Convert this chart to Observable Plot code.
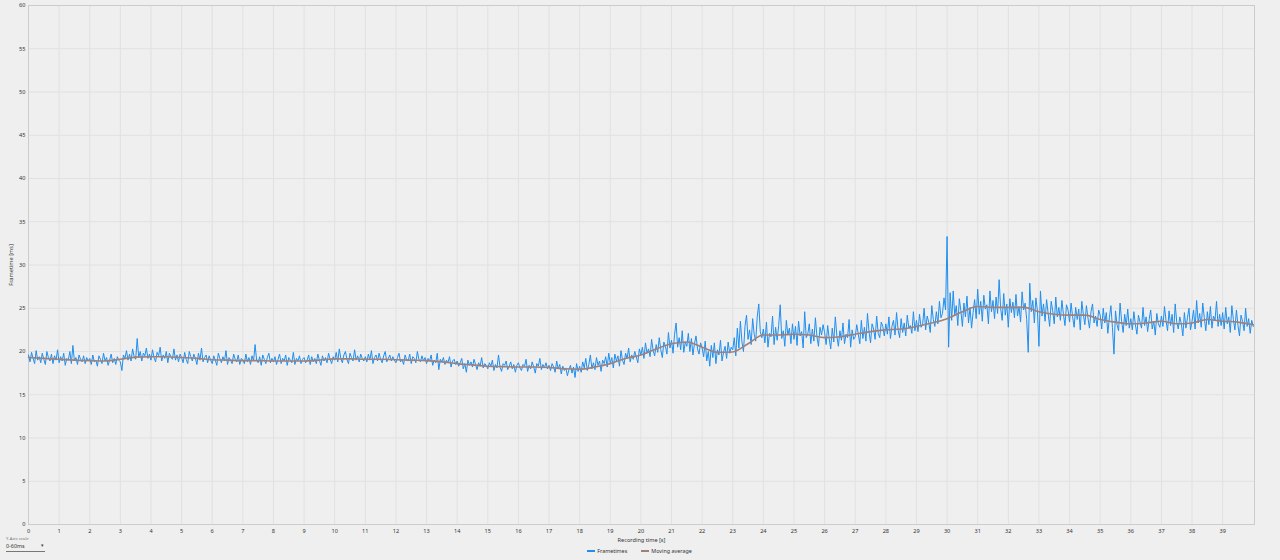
<!DOCTYPE html>
<html>
<head>
<meta charset="utf-8">
<script src="https://cdn.jsdelivr.net/npm/d3@7"></script>
<script src="https://cdn.jsdelivr.net/npm/@observablehq/plot@0.6"></script>
<style>
  html, body { margin: 0; padding: 0; background: #efefef; }
  body { width: 1280px; height: 560px; overflow: hidden; position: relative; font-family: "Noto Sans", "Open Sans", sans-serif; }
  #chart svg { display: block; }
  #legend { position: absolute; left: 0; top: 546px; width: 1279px; height: 10px; display: flex; justify-content: center; align-items: center; gap: 14px; font-size: 5.4px; color: #333; }
  .item { display: flex; align-items: center; gap: 2px; }
  .sw { display: inline-block; width: 8px; height: 2px; }
  #yscale { position: absolute; left: 6px; top: 536px; font-size: 4.2px; color: #777; }
  #yscale .sel { font-size: 5.4px; color: #333; margin-top: 1px; width: 39px; border-bottom: 1px solid #777; padding-bottom: 1px; position: relative; }
  #yscale .arr { position: absolute; right: 1px; top: 0px; font-size: 4.5px; color: #444; }
</style>
</head>
<body>
<div id="chart"></div>
<div id="legend"></div>
<div id="yscale"><div>Y-Axis scale</div><div class="sel">0-60ms<span class="arr">&#9662;</span></div></div>
<script>
// ---- data ----
const sampleStep = 0.05; // seconds between plotted frametime samples
const frametimes = [
19.6,18.8,19.9,19.2,18.6,20.1,19.0,19.4,18.7,19.8,19.1,18.5,20.0,19.3,18.9,19.7,18.6,19.5,19.0,20.2,
18.7,19.4,18.9,19.8,18.4,19.2,19.0,20.0,18.6,20.7,18.9,19.3,18.5,19.6,19.1,18.8,19.5,18.6,19.3,18.9,
19.2,18.5,19.6,18.8,19.0,18.3,19.5,19.1,18.6,19.8,18.9,19.3,18.4,19.0,19.7,18.7,19.2,18.5,19.4,19.0,
18.8,17.8,19.6,19.2,20.1,19.0,19.7,18.9,20.3,19.4,19.1,21.5,19.3,20.0,18.9,19.8,19.5,20.4,19.2,19.7,
19.0,20.2,19.3,18.8,19.9,19.5,20.5,18.9,19.6,19.2,20.0,18.7,19.8,19.4,19.1,20.3,19.0,19.6,18.8,19.7,
19.3,18.7,19.9,19.1,18.6,20.0,19.4,18.9,19.7,19.2,18.5,19.8,19.0,20.4,18.8,19.3,19.6,18.7,19.5,19.0,
18.6,19.5,19.0,18.4,19.8,19.2,18.7,19.4,18.9,20.1,18.5,19.3,19.0,18.6,19.7,19.1,18.8,19.6,18.5,19.2,
19.0,18.6,19.7,18.8,19.3,18.5,19.5,18.9,20.8,19.0,18.7,19.4,18.4,19.6,19.1,18.6,19.3,19.8,18.7,19.2,
18.8,19.4,18.5,19.1,19.7,18.6,19.2,18.9,19.6,18.4,19.3,19.0,18.7,19.9,18.5,19.2,18.9,19.5,18.6,19.1,
19.3,18.7,19.0,19.6,18.5,19.4,18.8,19.2,18.6,19.7,19.0,18.4,19.5,18.9,19.3,18.7,19.8,19.1,18.6,19.4,
19.0,19.9,18.8,20.3,19.2,18.7,19.6,20.0,19.1,18.6,19.8,19.3,18.9,20.2,19.0,19.5,18.8,19.7,19.2,18.9,
19.4,18.8,19.7,19.0,20.1,18.6,19.3,19.6,18.9,19.8,19.1,18.7,19.5,20.0,18.8,19.2,19.6,18.9,19.4,19.0,
18.7,19.3,19.8,18.8,19.1,18.5,19.6,19.0,18.9,19.7,18.6,19.4,19.2,18.7,20.0,19.1,18.8,19.5,18.9,19.3,
18.6,19.2,18.9,19.6,18.4,19.0,18.7,19.8,17.9,19.1,18.8,19.3,18.5,19.0,18.7,19.4,18.2,18.9,19.1,18.5,
18.9,18.3,18.7,19.2,18.0,18.6,17.6,19.0,18.4,18.8,18.2,19.1,18.5,17.9,18.7,18.3,19.3,18.1,18.6,18.4,
18.0,18.7,18.3,19.0,17.8,18.5,18.1,19.6,18.2,17.7,18.6,18.4,18.9,17.9,18.3,18.8,18.0,18.5,17.6,18.4,
18.7,18.1,17.8,18.5,18.3,19.1,17.7,18.4,18.0,18.8,18.2,17.5,18.6,18.3,19.2,17.9,18.5,18.1,18.7,18.0,
18.4,17.8,18.6,18.2,17.6,18.9,18.0,18.5,17.4,18.3,17.8,18.1,17.2,17.9,18.4,17.5,18.2,17.0,18.6,17.7,
18.3,17.6,18.8,18.1,19.2,17.8,18.5,19.6,18.0,18.7,17.9,19.3,18.4,18.9,17.7,19.0,18.6,19.4,18.2,19.8,
18.6,19.3,18.1,19.7,18.9,19.5,18.3,20.1,19.0,18.5,19.8,19.2,20.4,18.8,19.6,19.1,20.0,19.4,18.7,20.3,
19.6,20.5,19.2,21.0,19.8,20.3,19.4,21.4,20.1,19.5,20.8,19.9,21.6,20.2,19.3,21.1,20.6,19.7,22.2,20.4,
21.3,19.8,22.0,23.3,20.5,21.6,20.2,22.4,19.9,21.1,20.6,22.1,20.0,21.5,19.6,20.9,21.8,20.3,19.7,21.0,
20.4,19.4,21.2,18.9,20.0,18.3,20.7,19.3,21.0,18.6,20.2,19.6,21.3,18.9,19.9,20.6,19.2,21.1,19.8,20.5,
20.2,21.6,19.5,22.7,20.4,23.5,21.1,20.0,22.9,24.2,21.4,22.5,20.8,23.8,22.0,21.2,24.0,25.5,22.3,21.6,
22.6,21.0,23.4,20.5,22.1,21.7,24.1,20.8,22.8,21.3,23.0,25.4,21.5,22.4,20.6,23.6,21.9,22.7,20.9,23.2,
21.4,22.9,20.7,23.5,21.8,22.3,20.4,24.6,21.6,22.0,23.2,20.9,22.6,21.2,23.9,21.7,20.6,22.8,21.9,23.1,
22.2,20.8,23.0,21.5,20.3,22.7,21.1,24.0,21.8,20.6,22.4,21.3,23.3,20.9,22.0,21.6,23.7,20.5,22.5,21.4,
21.7,23.1,22.0,20.9,23.6,21.5,22.8,21.2,24.4,22.3,21.0,23.2,22.6,21.4,24.1,22.1,21.6,23.4,22.9,21.8,
23.2,22.0,24.0,21.5,22.9,23.6,21.9,24.5,22.5,21.6,23.8,22.2,23.3,21.8,24.2,22.7,23.0,22.1,24.6,22.4,
23.6,22.3,24.3,22.8,23.1,25.0,22.5,24.1,23.4,22.2,25.3,23.7,22.9,24.6,23.2,25.8,23.9,24.4,26.2,24.8,
33.3,20.5,26.8,23.6,27.0,24.2,25.3,23.0,26.1,24.7,22.9,25.6,24.0,26.4,23.3,25.1,22.7,24.5,26.0,23.8,
27.2,24.3,25.8,23.5,26.5,24.9,25.4,23.2,27.0,24.6,25.9,23.8,26.3,24.4,28.3,25.0,23.6,26.7,24.2,25.5,
22.8,26.1,24.5,25.7,23.9,26.6,24.1,25.2,23.4,26.9,24.8,25.6,23.7,19.9,27.9,24.6,25.9,23.3,26.2,24.7,
20.6,27.0,24.1,25.5,23.5,26.0,24.4,22.9,25.8,24.7,23.2,26.3,24.0,25.1,23.6,25.9,24.3,23.0,25.4,24.8,
23.4,25.6,24.0,22.8,25.1,23.7,24.9,22.5,25.8,24.3,23.1,25.3,23.9,22.7,24.6,25.5,23.3,24.1,22.9,24.8,
24.2,22.6,25.0,23.3,24.5,22.1,23.9,25.3,22.8,19.7,24.7,23.1,22.4,25.6,23.5,22.2,24.3,23.0,24.9,22.7,
23.8,22.5,24.6,23.1,22.0,24.2,23.4,22.7,25.1,23.0,24.0,22.3,23.7,24.8,22.6,23.5,21.9,24.4,23.2,22.8,
24.1,22.9,25.2,23.6,22.4,24.7,23.0,24.3,22.2,25.5,23.4,22.6,24.0,23.2,21.8,24.5,22.7,23.9,25.0,22.5,
23.5,24.8,22.6,25.9,23.3,24.4,22.8,25.6,23.9,22.4,24.6,23.1,25.2,22.7,24.1,23.6,25.8,22.9,24.3,23.0,
24.5,22.6,25.1,23.2,24.0,22.2,25.3,23.7,22.5,24.8,23.0,21.8,24.2,23.5,22.4,25.0,22.9,23.8,22.1,23.6,
22.9
];
const avgTimes = [0,0.5,1,1.5,2,2.5,3,3.5,4,4.5,5,5.5,6,6.5,7,7.5,8,8.5,9,9.5,10,10.5,11,11.5,12,12.5,13,13.5,14,14.5,15,15.5,16,16.5,17,17.5,18,18.5,19,19.5,20,20.5,21,21.5,22,22.5,23,23.5,24,24.5,25,25.5,26,26.5,27,27.5,28,28.5,29,29.5,30,30.5,31,31.5,32,32.5,33,33.5,34,34.5,35,35.5,36,36.5,37,37.5,38,38.5,39,39.5,40];
const avgValues = [19.3,19.2,19.1,19.0,18.95,18.9,19.1,19.35,19.4,19.4,19.3,19.2,19.05,19.0,18.95,18.95,18.9,18.9,18.9,19.0,19.15,19.15,19.1,19.1,19.05,19.0,18.95,18.8,18.6,18.45,18.3,18.25,18.2,18.2,18.15,18.0,17.95,18.2,18.6,19.2,19.6,20.3,20.9,21.1,20.5,19.9,19.95,20.9,21.9,21.9,22.0,21.9,21.6,21.7,22.0,22.3,22.5,22.6,22.9,23.3,23.8,24.6,25.2,25.1,25.1,25.1,24.6,24.3,24.2,24.2,23.7,23.4,23.2,23.3,23.5,23.2,23.3,23.7,23.5,23.4,23.1];
const xTicks = [0,1,2,3,4,5,6,7,8,9,10,11,12,13,14,15,16,17,18,19,20,21,22,23,24,25,26,27,28,29,30,31,32,33,34,35,36,37,38,39];
const yTicks = [0,5,10,15,20,25,30,35,40,45,50,55,60];
const seriesNames = ["Frametimes", "Moving average"];
const seriesColors = ["#1e8ff0", "#a0807a"];

// ---- build tables ----
const frameRows = frametimes.map((v, i) => ({t: i * sampleStep, v}));
const avgRows = avgTimes.map((t, i) => ({t, v: avgValues[i]}));

const chart = Plot.plot({
  width: 1280,
  height: 545,
  marginLeft: 28,
  marginRight: 26,
  marginTop: 5,
  marginBottom: 21,
  style: {background: "transparent", fontFamily: "'Noto Sans', 'Open Sans', sans-serif", fontSize: "5.6px", color: "#333"},
  x: {domain: [0, 40.04]},
  y: {domain: [0, 60]},
  marks: [
    Plot.gridX(xTicks, {stroke: "#e1e1e1", strokeOpacity: 1}),
    Plot.gridY(yTicks, {stroke: "#e1e1e1", strokeOpacity: 1}),
    Plot.frame({stroke: "#cccccc"}),
    Plot.axisX(xTicks, {tickSize: 0, tickPadding: 5, tickFormat: d => String(d), label: "Recording time [s]", labelAnchor: "center", labelArrow: "none", labelOffset: 17}),
    Plot.axisY(yTicks, {tickSize: 0, tickPadding: 3, tickFormat: d => String(d), label: "Frametime [ms]", labelAnchor: "center", labelArrow: "none", labelOffset: 19}),
    Plot.line(frameRows, {x: "t", y: "v", stroke: seriesColors[0], strokeWidth: 1}),
    Plot.line(avgRows, {x: "t", y: "v", stroke: seriesColors[1], strokeWidth: 1.6, curve: "monotone-x"})
  ]
});
document.getElementById("chart").appendChild(chart);

const legend = document.getElementById("legend");
seriesNames.forEach((name, i) => {
  const item = document.createElement("div");
  item.className = "item";
  const sw = document.createElement("span");
  sw.className = "sw";
  sw.style.background = seriesColors[i];
  const label = document.createElement("span");
  label.textContent = name;
  item.appendChild(sw);
  item.appendChild(label);
  legend.appendChild(item);
});
</script>
</body>
</html>
